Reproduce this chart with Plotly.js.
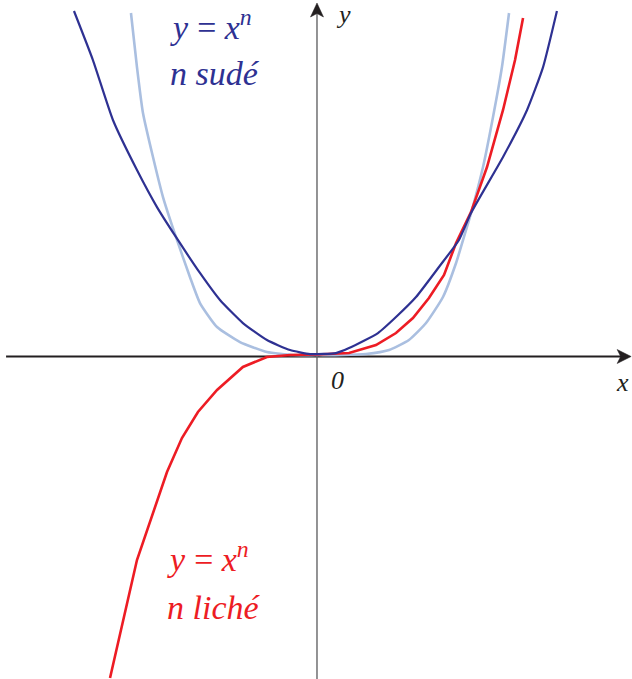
<!DOCTYPE html>
<html>
<head>
<meta charset="utf-8">
<script src="https://cdn.plot.ly/plotly-3.0.1.min.js"></script>
<style>html,body{margin:0;padding:0;background:#fff;}#chart{width:632px;height:679px;}</style>
</head>
<body>
<div id="chart"></div>
<script>
// y = x^2 (n sudé, dark blue)
const sqX = [-1.578,-1.455,-1.325,-1.169,-1.039,-0.916,-0.760,-0.630,-0.481,-0.325,-0.175,-0.045,0.123,0.208,0.396,0.513,0.643,0.792,0.922,1.000,1.208,1.364,1.468,1.558];
const sqY = [2.416,2.073,1.654,1.304,1.045,0.836,0.584,0.395,0.234,0.115,0.045,0.017,0.024,0.059,0.164,0.276,0.416,0.626,0.815,1.003,1.395,1.724,2.024,2.416];
// y = x^4 (n sudé, light blue)
const quartX = [-1.208,-1.169,-1.130,-1.065,-1.000,-0.916,-0.825,-0.760,-0.649,-0.500,-0.325,-0.156,0.000,0.169,0.318,0.468,0.597,0.708,0.818,0.903,0.968,1.006,1.078,1.143,1.201,1.247];
const quartY = [2.402,2.024,1.703,1.395,1.115,0.836,0.556,0.374,0.206,0.101,0.031,0.010,0.010,0.010,0.017,0.045,0.115,0.234,0.416,0.654,0.885,1.024,1.325,1.675,2.024,2.402];
// y = x^3 (n liché, red)
const cubeX = [-1.344,-1.169,-0.974,-0.877,-0.773,-0.649,-0.481,-0.325,-0.175,0.000,0.208,0.383,0.513,0.623,0.727,0.825,0.903,1.000,1.104,1.208,1.286,1.338];
const cubeY = [-2.248,-1.423,-0.808,-0.570,-0.388,-0.234,-0.073,-0.003,0.010,0.014,0.024,0.080,0.164,0.269,0.409,0.570,0.794,1.010,1.325,1.724,2.073,2.367];

const labelEq = "y\u2009=\u2009x<sup>n</sup>";
const labelEven = "n sudé";
const labelOdd = "n liché";
const axisLabelX = "x", axisLabelY = "y", originLabel = "0";

const BLUE = "#2e3192", LIGHT = "#aabfe0", RED = "#ed1c24";
const XR = [-2.0584, 2.0455], YR = [-2.2552, 2.4930];
const xAxisStart = -2.019, xAxisTip = 2.040, yAxisTip = 2.472;

const traces = [
  {x: quartX, y: quartY, mode: "lines", line: {color: LIGHT, width: 2.6, shape: "spline", smoothing: 0.5}, hoverinfo: "skip"},
  {x: cubeX, y: cubeY, mode: "lines", line: {color: RED, width: 2.6}, hoverinfo: "skip"},
  {x: sqX, y: sqY, mode: "lines", line: {color: BLUE, width: 2.2, shape: "spline", smoothing: 0.5}, hoverinfo: "skip"}
];

const serif = "Liberation Serif";
function txt(t, x, y, color, size, anchor) {
  return {text: t, x: x, y: y, xref: "x", yref: "y", showarrow: false,
    xanchor: anchor || "left", yanchor: "middle",
    font: {family: serif, size: size, color: color, style: "italic"}};
}

const annotations = [
  txt(labelEq, -0.968, 2.317, BLUE, 34),
  txt(labelEven, -0.968, 1.982, BLUE, 34),
  txt(labelEq, -0.987, -1.403, RED, 34),
  txt(labelOdd, -0.987, -1.753, RED, 34),
  txt(axisLabelX, 1.981, -0.182, "#231f20", 26, "center"),
  txt(axisLabelY, 0.169, 2.391, "#231f20", 26, "center"),
  txt(originLabel, 0.13, -0.168, "#231f20", 26, "center")
];

const AX = "#231f20", AY = "#58595b";
const shapes = [
  {type: "line", xref: "x", yref: "y", x0: xAxisStart, x1: xAxisTip - 0.06, y0: 0, y1: 0,
   line: {color: AX, width: 1.8}, layer: "below"},
  {type: "line", xref: "x", yref: "y", x0: 0, x1: 0, y0: YR[0], y1: yAxisTip - 0.06,
   line: {color: AY, width: 1.3}, layer: "below"},
  {type: "path", xref: "x", yref: "y", xsizemode: "pixel", ysizemode: "pixel",
   xanchor: xAxisTip, yanchor: 0, path: "M 0 0 L -14 7 L -10.5 0 L -14 -7 Z",
   fillcolor: AX, line: {color: AX, width: 0.5}},
  {type: "path", xref: "x", yref: "y", xsizemode: "pixel", ysizemode: "pixel",
   xanchor: 0, yanchor: yAxisTip, path: "M 0 0 L -6.5 -14 L 0 -10.5 L 6.5 -14 Z",
   fillcolor: AX, line: {color: AX, width: 0.5}}
];

const layout = {
  width: 632, height: 679,
  margin: {l: 0, r: 0, t: 0, b: 0, pad: 0},
  paper_bgcolor: "#fff", plot_bgcolor: "#fff",
  font: {family: serif},
  showlegend: false,
  xaxis: {range: XR, visible: false, fixedrange: true},
  yaxis: {range: YR, visible: false, fixedrange: true},
  annotations: annotations,
  shapes: shapes
};

Plotly.newPlot("chart", traces, layout, {displayModeBar: false, staticPlot: true});
</script>
</body>
</html>
